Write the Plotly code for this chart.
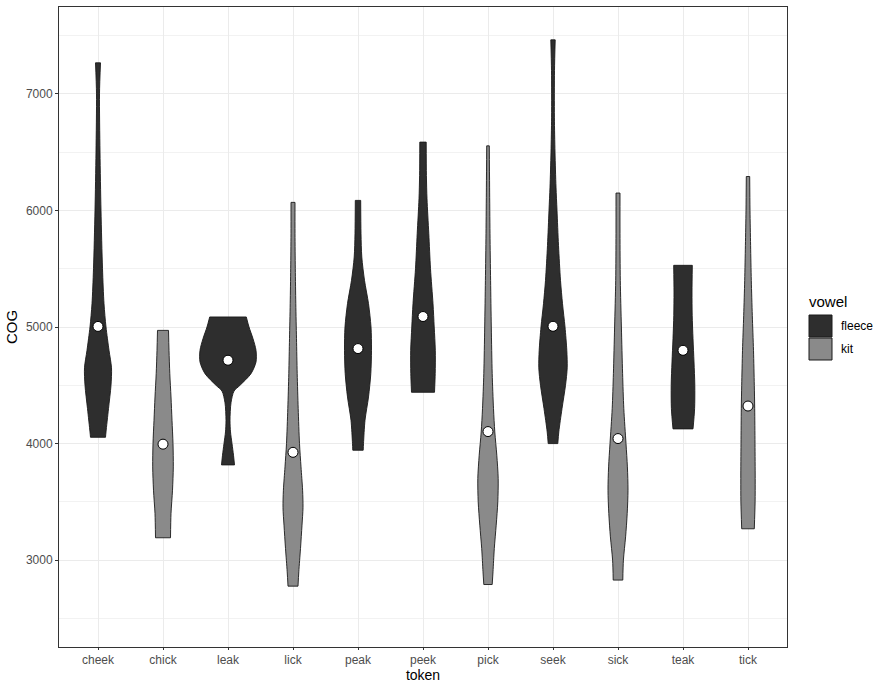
import plotly.graph_objects as go

# ---------------- data ----------------
tokens = ["cheek", "chick", "leak", "lick", "peak", "peek", "pick", "seek", "sick", "teak", "tick"]
vowel = ["fleece", "kit", "fleece", "kit", "fleece", "fleece", "kit", "fleece", "kit", "fleece", "kit"]
cog_mean = [5005, 3995, 4715, 3925, 4815, 5090, 4103, 5006, 4043, 4800, 4322]

# density profiles: COG level -> relative violin half-width (ggplot scale="area")
cheek_cog = [7266, 7000, 6500, 6000, 5500, 5200, 5000, 4800, 4650, 4500, 4300, 4100, 4054]
cheek_den = [2.5, 1.5, 2.0, 3.0, 4.5, 6.0, 8.0, 11.0, 13.5, 13.0, 10.5, 8.0, 7.5]
chick_cog = [4971, 4800, 4600, 4400, 4200, 4000, 3800, 3600, 3400, 3192]
chick_den = [5.5, 6.0, 6.8, 8.0, 9.0, 10.0, 10.3, 9.5, 8.0, 7.5]
leak_cog = [5086, 5000, 4900, 4800, 4700, 4600, 4500, 4450, 4350, 4200, 4100, 4000, 3900, 3817]
leak_den = [18.3, 21.0, 25.0, 28.0, 28.0, 23.0, 12.0, 6.0, 3.0, 2.0, 2.5, 4.0, 5.5, 6.5]
lick_cog = [6069, 5800, 5500, 5200, 4900, 4600, 4300, 4000, 3800, 3600, 3450, 3300, 3100, 2900, 2777]
lick_den = [2.0, 2.0, 2.3, 2.8, 3.5, 4.2, 5.2, 6.5, 8.0, 9.6, 10.0, 9.0, 7.5, 5.8, 5.0]
peak_cog = [6086, 5800, 5600, 5400, 5200, 5000, 4800, 4600, 4400, 4200, 4000, 3943]
peak_den = [2.7, 3.0, 3.8, 6.5, 10.5, 13.0, 13.5, 12.8, 10.5, 7.0, 5.5, 5.2]
peek_cog = [6586, 6300, 6100, 5800, 5500, 5200, 5000, 4800, 4600, 4440]
peek_den = [3.2, 3.4, 4.0, 5.8, 7.5, 10.0, 11.2, 12.3, 12.2, 11.5]
pick_cog = [6554, 6200, 5800, 5400, 5000, 4600, 4300, 4100, 3900, 3700, 3500, 3300, 3100, 2900, 2791]
pick_den = [1.3, 1.6, 2.0, 2.6, 3.3, 4.2, 5.5, 6.8, 8.8, 10.2, 9.8, 8.2, 6.3, 5.0, 4.2]
seek_cog = [7463, 7200, 6800, 6500, 6200, 6000, 5700, 5400, 5200, 5000, 4800, 4650, 4500, 4300, 4100, 4000]
seek_den = [2.2, 1.5, 1.4, 2.0, 3.0, 4.0, 5.5, 7.5, 9.5, 12.0, 13.8, 14.2, 12.5, 9.0, 5.8, 4.8]
sick_cog = [6149, 5800, 5400, 5000, 4600, 4300, 4000, 3800, 3600, 3400, 3200, 3000, 2829]
sick_den = [2.0, 2.0, 2.3, 3.4, 4.6, 5.8, 8.0, 9.4, 10.0, 9.2, 7.6, 5.4, 4.8]
teak_cog = [5529, 5300, 5100, 4900, 4700, 4500, 4300, 4126]
teak_den = [9.3, 9.0, 9.2, 10.0, 11.0, 11.8, 11.6, 10.0]
tick_cog = [6291, 6000, 5700, 5400, 5100, 4800, 4500, 4300, 4000, 3700, 3500, 3269]
tick_den = [1.7, 2.0, 2.6, 3.3, 4.3, 5.5, 6.3, 6.7, 7.0, 7.2, 7.1, 6.3]

profiles = [
    (cheek_cog, cheek_den), (chick_cog, chick_den), (leak_cog, leak_den),
    (lick_cog, lick_den), (peak_cog, peak_den), (peek_cog, peek_den),
    (pick_cog, pick_den), (seek_cog, seek_den), (sick_cog, sick_den),
    (teak_cog, teak_den), (tick_cog, tick_den),
]

y_ticks = [3000, 4000, 5000, 6000, 7000]
y_minor = [2500, 3500, 4500, 5500, 6500, 7500]

# ---------------- styles ----------------
FILL = {"fleece": "#2e2e2e", "kit": "#8a8a8a"}
EDGE = "#1a1a1a"
WIDTH_SCALE = 1 / 65.0   # relative density -> category units
FONT = "Liberation Sans, Arial, sans-serif"

fig = go.Figure()

for i, (tok, vw, (cog, den)) in enumerate(zip(tokens, vowel, profiles)):
    left_x = [i - d * WIDTH_SCALE for d in den]
    right_x = [i + d * WIDTH_SCALE for d in den]
    smooth = dict(color=EDGE, width=0.9, shape="spline", smoothing=0.8)
    # left outline
    fig.add_trace(go.Scatter(x=left_x, y=cog, mode="lines", line=smooth,
                             hoverinfo="skip", showlegend=False))
    # right outline, filled horizontally to the left one (flat trimmed ends)
    fig.add_trace(go.Scatter(x=right_x, y=cog, mode="lines", line=smooth,
                             fill="tonextx", fillcolor=FILL[vw],
                             hoverinfo="skip", showlegend=False))
    # flat top and bottom edges of the trimmed violin
    fig.add_trace(go.Scatter(
        x=[left_x[0], right_x[0], None, left_x[-1], right_x[-1]],
        y=[cog[0], cog[0], None, cog[-1], cog[-1]],
        mode="lines", line=dict(color=EDGE, width=0.9),
        hoverinfo="skip", showlegend=False))

fig.add_trace(go.Scatter(
    x=list(range(len(tokens))), y=cog_mean, mode="markers",
    marker=dict(size=10, color="white", line=dict(color="black", width=1)),
    hoverinfo="skip", showlegend=False,
))

PL, PR, PT, PB = 59, 787, 7, 647
W, H = 874, 683

def px(xpix):
    return (xpix - PL) / (PR - PL)

def py(ypix):
    return (PB - ypix) / (PB - PT)

shapes = []
annotations = []
# legend
annotations.append(dict(x=px(807), y=py(301), xref="paper", yref="paper", text="vowel",
                        showarrow=False, xanchor="left", yanchor="middle",
                        font=dict(family=FONT, size=15, color="black")))
for lab, y0, y1 in [("fleece", 315, 337), ("kit", 338, 360)]:
    shapes.append(dict(type="rect", xref="paper", yref="paper",
                       x0=px(809), x1=px(832), y0=py(y1), y1=py(y0),
                       fillcolor=FILL[lab], line=dict(color=EDGE, width=1)))
    annotations.append(dict(x=px(839), y=py((y0 + y1) / 2), xref="paper", yref="paper",
                            text=lab, showarrow=False, xanchor="left", yanchor="middle",
                            font=dict(family=FONT, size=12, color="black")))

fig.update_layout(
    width=W, height=H,
    margin=dict(l=PL, r=W - PR, t=PT, b=H - PB, autoexpand=False),
    paper_bgcolor="white", plot_bgcolor="white",
    font=dict(family=FONT),
    shapes=shapes, annotations=annotations,
    xaxis=dict(
        range=[-0.6, len(tokens) - 0.4],
        tickmode="array", tickvals=list(range(len(tokens))), ticktext=tokens,
        showgrid=True, gridcolor="#ebebeb", gridwidth=1,
        showline=True, linecolor="#333333", linewidth=1, mirror=True,
        ticks="outside", ticklen=2, tickcolor="#333333",
        tickfont=dict(family=FONT, size=12, color="#4d4d4d"),
        title=dict(text="token", font=dict(family=FONT, size=14, color="black"), standoff=0),
        zeroline=False,
    ),
    yaxis=dict(
        range=[2255, 7745],
        tickmode="array", tickvals=y_ticks, ticktext=[str(v) for v in y_ticks],
        showgrid=True, gridcolor="#ebebeb", gridwidth=1,
        minor=dict(tickvals=y_minor, showgrid=True, gridcolor="#f2f2f2", gridwidth=1),
        showline=True, linecolor="#333333", linewidth=1, mirror=True,
        ticks="outside", ticklen=3, tickcolor="#333333",
        tickfont=dict(family=FONT, size=12, color="#4d4d4d"),
        title=dict(text="COG", font=dict(family=FONT, size=15, color="black"), standoff=4),
        zeroline=False,
    ),
)

fig.write_html("out.html", config={"displayModeBar": False},
               post_script="document.body.style.margin='0';")
